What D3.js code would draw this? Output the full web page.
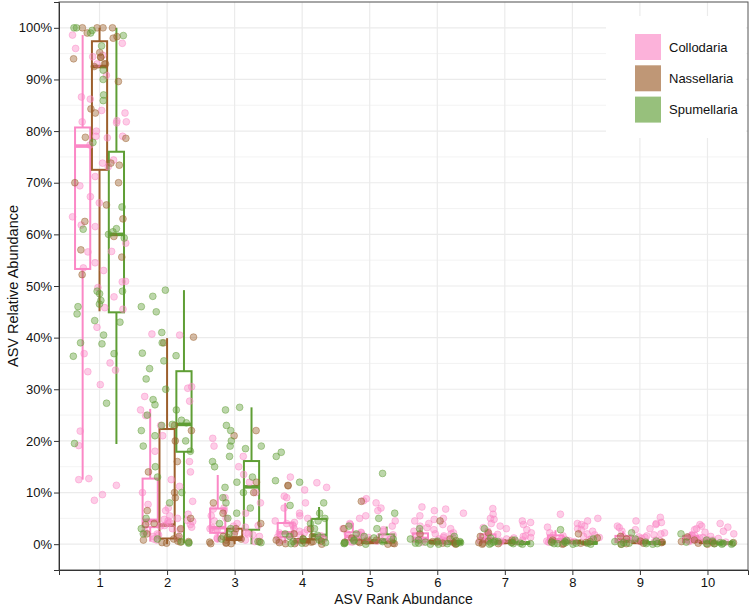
<!DOCTYPE html>
<html>
<head>
<meta charset="utf-8">
<title>ASV Rank Abundance</title>
<script src="https://d3js.org/d3.v7.min.js"></script>
<style>
  body { margin: 0; background: #fff; }
  svg { display: block; font-family: "Liberation Sans", Arial, sans-serif; }
  .grid line { stroke: #ebebeb; }
  .tick text { fill: #111; font-size: 13px; }
  .tick line { stroke: #333; }
</style>
</head>
<body>
<script>

var ranks = [1, 2, 3, 4, 5, 6, 7, 8, 9, 10];
var groups = ["Collodaria", "Nassellaria", "Spumellaria"];
var colors = ["#fb88c6", "#9c5f2c", "#5f9e35"];
var yTicks = [0, 0.1, 0.2, 0.3, 0.4, 0.5, 0.6, 0.7, 0.8, 0.9, 1];

// box stats per rank: [lower whisker, q1, median, q3, upper whisker]
var colloBox = [
  [0.125, 0.533, 0.771, 0.807, 0.986],
  [0.005, 0.033, 0.046, 0.127, 0.262],
  [0.004, 0.022, 0.032, 0.069, 0.134],
  [0.002, 0.014, 0.022, 0.041, 0.080],
  [0.001, 0.008, 0.015, 0.023, 0.041],
  [0.001, 0.005, 0.011, 0.021, 0.032],
  [0.001, 0.004, 0.010, 0.019, 0.030],
  [0.001, 0.004, 0.009, 0.017, 0.027],
  [0.001, 0.004, 0.008, 0.016, 0.025],
  [0.001, 0.004, 0.008, 0.016, 0.024]
];
var nasseBox = [
  [0.451, 0.725, 0.925, 0.974, 1.0],
  [0.0, 0.011, 0.037, 0.223, 0.399],
  [0.0, 0.008, 0.012, 0.030, 0.030],
  [0.0, 0.003, 0.006, 0.010, 0.020],
  [0.0, 0.002, 0.004, 0.008, 0.015],
  [0.0, 0.002, 0.004, 0.007, 0.012],
  [0.0, 0.002, 0.004, 0.007, 0.010],
  [0.0, 0.002, 0.004, 0.007, 0.010],
  [0.0, 0.002, 0.004, 0.007, 0.010],
  [0.0, 0.002, 0.004, 0.007, 0.010]
];
var spumeBox = [
  [0.194, 0.449, 0.600, 0.760, 1.0],
  [0.002, 0.179, 0.232, 0.335, 0.492],
  [0.0, 0.028, 0.111, 0.161, 0.265],
  [0.001, 0.009, 0.017, 0.049, 0.072],
  [0.0, 0.003, 0.008, 0.019, 0.034],
  [0.0, 0.001, 0.003, 0.006, 0.012],
  [0.0, 0.001, 0.002, 0.004, 0.008],
  [0.0, 0.001, 0.002, 0.004, 0.008],
  [0.0, 0.001, 0.002, 0.004, 0.008],
  [0.0, 0.001, 0.002, 0.004, 0.008]
];

// individual sample values per rank
var colloPts = [
  [0.986, 0.97, 0.96, 0.947, 0.944, 0.93, 0.908, 0.866, 0.862, 0.84, 0.835, 0.82, 0.818, 0.818, 0.816, 0.80, 0.79, 0.79, 0.787, 0.773, 0.744, 0.738, 0.731, 0.712, 0.694, 0.673, 0.661, 0.634, 0.618, 0.615, 0.583, 0.567, 0.566, 0.545, 0.535, 0.53, 0.509, 0.508, 0.497, 0.479, 0.458, 0.455, 0.42, 0.369, 0.351, 0.337, 0.334, 0.309, 0.219, 0.191, 0.127, 0.125, 0.114, 0.096, 0.085],
  [0.407, 0.405, 0.305, 0.302, 0.286, 0.277, 0.26, 0.249, 0.23, 0.21, 0.18, 0.16, 0.14, 0.125, 0.112, 0.10, 0.083, 0.077, 0.07, 0.065, 0.058, 0.055, 0.05, 0.048, 0.046, 0.045, 0.044, 0.043, 0.042, 0.04, 0.038, 0.036, 0.035, 0.033, 0.03, 0.028, 0.025, 0.022, 0.02, 0.018, 0.015, 0.012, 0.01, 0.008],
  [0.205, 0.19, 0.17, 0.15, 0.135, 0.12, 0.1, 0.09, 0.08, 0.07, 0.068, 0.065, 0.06, 0.055, 0.05, 0.045, 0.04, 0.036, 0.035, 0.033, 0.032, 0.03, 0.028, 0.026, 0.025, 0.022, 0.02, 0.018, 0.015, 0.012, 0.01, 0.008, 0.005],
  [0.13, 0.119, 0.11, 0.105, 0.093, 0.09, 0.08, 0.07, 0.06, 0.055, 0.05, 0.045, 0.042, 0.04, 0.038, 0.035, 0.03, 0.028, 0.025, 0.022, 0.022, 0.02, 0.018, 0.016, 0.015, 0.014, 0.012, 0.01, 0.008, 0.006, 0.004],
  [0.088, 0.084, 0.08, 0.07, 0.065, 0.055, 0.05, 0.045, 0.04, 0.038, 0.035, 0.03, 0.028, 0.025, 0.023, 0.022, 0.02, 0.018, 0.016, 0.015, 0.013, 0.012, 0.01, 0.009, 0.008, 0.006, 0.005, 0.004],
  [0.072, 0.068, 0.065, 0.06, 0.055, 0.05, 0.048, 0.045, 0.04, 0.038, 0.035, 0.032, 0.03, 0.028, 0.025, 0.022, 0.02, 0.02, 0.018, 0.016, 0.015, 0.013, 0.012, 0.01, 0.009, 0.008, 0.007, 0.006, 0.005, 0.004],
  [0.069, 0.058, 0.05, 0.048, 0.045, 0.042, 0.04, 0.038, 0.035, 0.032, 0.03, 0.028, 0.025, 0.022, 0.02, 0.019, 0.018, 0.016, 0.015, 0.013, 0.012, 0.011, 0.01, 0.009, 0.008, 0.007, 0.006, 0.005, 0.004],
  [0.058, 0.05, 0.045, 0.04, 0.038, 0.035, 0.033, 0.03, 0.028, 0.025, 0.022, 0.02, 0.018, 0.017, 0.016, 0.015, 0.013, 0.012, 0.011, 0.01, 0.009, 0.008, 0.007, 0.006, 0.005, 0.004],
  [0.052, 0.045, 0.042, 0.04, 0.038, 0.035, 0.032, 0.03, 0.028, 0.025, 0.022, 0.02, 0.018, 0.016, 0.015, 0.014, 0.013, 0.012, 0.011, 0.01, 0.009, 0.008, 0.007, 0.006, 0.005, 0.004],
  [0.04, 0.038, 0.035, 0.033, 0.03, 0.028, 0.025, 0.023, 0.02, 0.018, 0.017, 0.016, 0.015, 0.014, 0.013, 0.012, 0.011, 0.01, 0.009, 0.008, 0.007, 0.006, 0.005, 0.004]
];
var nassePts = [
  [1.0, 1.0, 1.0, 1.0, 0.99, 0.983, 0.98, 0.952, 0.943, 0.943, 0.94, 0.93, 0.93, 0.925, 0.896, 0.843, 0.835, 0.788, 0.786, 0.738, 0.734, 0.70, 0.70, 0.657, 0.63, 0.625, 0.596, 0.57, 0.556, 0.522],
  [0.401, 0.39, 0.23, 0.22, 0.2, 0.16, 0.14, 0.1, 0.09, 0.065, 0.05, 0.04, 0.038, 0.03, 0.02, 0.015, 0.01, 0.008, 0.006, 0.005, 0.004, 0.003, 0.002],
  [0.22, 0.21, 0.12, 0.1, 0.08, 0.06, 0.04, 0.03, 0.02, 0.015, 0.013, 0.01, 0.008, 0.005, 0.004, 0.003, 0.002, 0.001, 0.001],
  [0.114, 0.113, 0.03, 0.02, 0.015, 0.01, 0.008, 0.006, 0.005, 0.004, 0.003, 0.002, 0.001, 0.001, 0.0],
  [0.083, 0.03, 0.012, 0.008, 0.006, 0.005, 0.004, 0.003, 0.002, 0.001, 0.0],
  [0.045, 0.02, 0.01, 0.007, 0.005, 0.004, 0.003, 0.002, 0.001, 0.0],
  [0.022, 0.015, 0.008, 0.006, 0.004, 0.003, 0.002, 0.001, 0.0],
  [0.02, 0.012, 0.008, 0.005, 0.004, 0.003, 0.002, 0.001, 0.0],
  [0.015, 0.01, 0.006, 0.004, 0.003, 0.002, 0.001, 0.0],
  [0.014, 0.008, 0.005, 0.004, 0.003, 0.002, 0.001, 0.0]
];
var spumePts = [
  [1.0, 1.0, 0.995, 0.99, 0.985, 0.965, 0.918, 0.90, 0.87, 0.859, 0.778, 0.653, 0.611, 0.61, 0.605, 0.60, 0.593, 0.49, 0.49, 0.485, 0.472, 0.465, 0.46, 0.446, 0.433, 0.43, 0.405, 0.39, 0.388, 0.369, 0.364, 0.273, 0.195],
  [0.492, 0.48, 0.46, 0.45, 0.41, 0.39, 0.37, 0.365, 0.355, 0.34, 0.32, 0.30, 0.28, 0.27, 0.26, 0.25, 0.24, 0.235, 0.232, 0.23, 0.22, 0.21, 0.2, 0.19, 0.18, 0.15, 0.13, 0.1, 0.08, 0.05, 0.03, 0.02, 0.01, 0.005, 0.003, 0.002],
  [0.265, 0.26, 0.23, 0.22, 0.2, 0.19, 0.19, 0.185, 0.17, 0.16, 0.15, 0.13, 0.12, 0.11, 0.1, 0.09, 0.08, 0.07, 0.06, 0.05, 0.04, 0.03, 0.02, 0.01, 0.005, 0.003],
  [0.178, 0.17, 0.123, 0.12, 0.08, 0.075, 0.06, 0.05, 0.045, 0.04, 0.03, 0.02, 0.017, 0.015, 0.01, 0.008, 0.005, 0.003, 0.002, 0.001],
  [0.137, 0.06, 0.05, 0.035, 0.03, 0.02, 0.015, 0.012, 0.01, 0.008, 0.006, 0.005, 0.003, 0.002, 0.001, 0.0],
  [0.03, 0.015, 0.01, 0.008, 0.006, 0.005, 0.004, 0.003, 0.002, 0.002, 0.001, 0.001, 0.0, 0.0],
  [0.03, 0.012, 0.008, 0.006, 0.005, 0.004, 0.003, 0.002, 0.002, 0.001, 0.001, 0.0, 0.0],
  [0.028, 0.01, 0.007, 0.005, 0.004, 0.003, 0.002, 0.002, 0.001, 0.001, 0.0, 0.0],
  [0.022, 0.01, 0.006, 0.005, 0.004, 0.003, 0.002, 0.001, 0.001, 0.0, 0.0],
  [0.02, 0.008, 0.006, 0.004, 0.003, 0.002, 0.002, 0.001, 0.001, 0.0, 0.0]
];

var boxes = [colloBox, nasseBox, spumeBox];
var points = [colloPts, nassePts, spumePts];

var width = 750, height = 612;
var pLeft = 59, pRight = 748, pTop = 2, pBottom = 570;

var svg = d3.select("body").append("svg")
    .attr("width", width)
    .attr("height", height);

var x = d3.scaleLinear().domain([0.4, 10.6]).range([pLeft, pRight]);
var y = d3.scaleLinear().domain([-0.05, 1.05]).range([pBottom, pTop]);

// grid
var grid = svg.append("g").attr("class", "grid");
grid.selectAll(".minor")
    .data(d3.range(-0.05, 1.06, 0.1))
    .enter().append("line")
    .attr("x1", pLeft).attr("x2", pRight)
    .attr("y1", function(d) { return y(d); })
    .attr("y2", function(d) { return y(d); })
    .style("stroke-width", 0.6);
grid.selectAll(".major")
    .data(yTicks)
    .enter().append("line")
    .attr("x1", pLeft).attr("x2", pRight)
    .attr("y1", function(d) { return y(d); })
    .attr("y2", function(d) { return y(d); })
    .style("stroke-width", 1.2);
grid.selectAll(".vmajor")
    .data(ranks)
    .enter().append("line")
    .attr("y1", pTop).attr("y2", pBottom)
    .attr("x1", function(d) { return x(d); })
    .attr("x2", function(d) { return x(d); })
    .style("stroke-width", 1.2);

// boxes
var dodge = [-0.25, 0, 0.25];
var halfW = x(0.5 + 0.1125) - x(0.5);

groups.forEach(function(g, gi) {
  var gBox = svg.append("g")
      .attr("fill", "none")
      .attr("stroke", colors[gi]);
  boxes[gi].forEach(function(s, ri) {
    var cx = x(ranks[ri] + dodge[gi]);
    gBox.append("line")
        .attr("x1", cx).attr("x2", cx)
        .attr("y1", y(s[4])).attr("y2", y(s[3]))
        .attr("stroke-width", 2);
    gBox.append("line")
        .attr("x1", cx).attr("x2", cx)
        .attr("y1", y(s[1])).attr("y2", y(s[0]))
        .attr("stroke-width", 2);
    gBox.append("rect")
        .attr("x", cx - halfW)
        .attr("width", halfW * 2)
        .attr("y", y(s[3]))
        .attr("height", Math.max(0.5, y(s[1]) - y(s[3])))
        .attr("stroke-width", 2);
    gBox.append("line")
        .attr("x1", cx - halfW).attr("x2", cx + halfW)
        .attr("y1", y(s[2])).attr("y2", y(s[2]))
        .attr("stroke-width", 3.6);
  });
});

// jitter offset from a hash of the point index (stable across runs)
function jitter(i, gi, ri) {
  var h = Math.sin(i * 12.9898 + gi * 78.233 + ri * 37.719) * 43758.5453;
  return (h - Math.floor(h) - 0.5) * 0.8;
}

groups.forEach(function(g, gi) {
  var pts = [];
  points[gi].forEach(function(vals, ri) {
    vals.forEach(function(v, i) {
      pts.push({rank: ranks[ri], off: jitter(i, gi, ri), v: v});
    });
  });
  svg.append("g").selectAll("circle")
      .data(pts)
      .enter().append("circle")
      .attr("cx", function(d) { return x(d.rank + d.off); })
      .attr("cy", function(d) { return y(d.v); })
      .attr("r", 3.4)
      .style("fill", colors[gi])
      .style("fill-opacity", 0.42)
      .style("stroke", colors[gi])
      .style("stroke-opacity", 0.45)
      .style("stroke-width", 1);
});

// panel border
svg.append("rect")
    .attr("x", pLeft).attr("y", pTop)
    .attr("width", pRight - pLeft).attr("height", pBottom - pTop)
    .attr("fill", "none")
    .attr("stroke", "#555")
    .attr("stroke-width", 1);

// axes
var yAxis = svg.append("g")
    .attr("transform", "translate(" + pLeft + ",0)")
    .call(d3.axisLeft(y).tickValues(yTicks).tickSize(5).tickPadding(2)
      .tickFormat(function(d) { return Math.round(d * 100) + "%"; }));
yAxis.select(".domain").attr("stroke", "#333");

var xAxis = svg.append("g")
    .attr("transform", "translate(0," + pBottom + ")")
    .call(d3.axisBottom(x).tickValues(ranks).tickSize(5).tickPadding(3)
      .tickFormat(d3.format("d")));
xAxis.select(".domain").attr("stroke", "#333");

svg.append("text")
    .attr("x", (pLeft + pRight) / 2)
    .attr("y", 604)
    .attr("text-anchor", "middle")
    .style("font-size", "14px")
    .style("fill", "#111")
    .text("ASV Rank Abundance");

svg.append("text")
    .attr("transform", "translate(18," + ((pTop + pBottom) / 2) + ") rotate(-90)")
    .attr("text-anchor", "middle")
    .style("font-size", "14.5px")
    .style("fill", "#111")
    .text("ASV Relative Abundance");

// legend
var legend = svg.append("g");
legend.append("rect")
    .attr("x", 606).attr("y", 16)
    .attr("width", 140).attr("height", 122)
    .attr("fill", "#fff");
groups.forEach(function(g, gi) {
  var ly = 34 + gi * 31.3;
  legend.append("rect")
      .attr("x", 635).attr("y", ly)
      .attr("width", 26).attr("height", 26)
      .attr("fill", colors[gi])
      .attr("fill-opacity", 0.65);
  legend.append("text")
      .attr("x", 669).attr("y", ly + 13)
      .attr("dy", "0.35em")
      .style("font-size", "13px")
      .style("fill", "#111")
      .text(g);
});

</script>
</body>
</html>
